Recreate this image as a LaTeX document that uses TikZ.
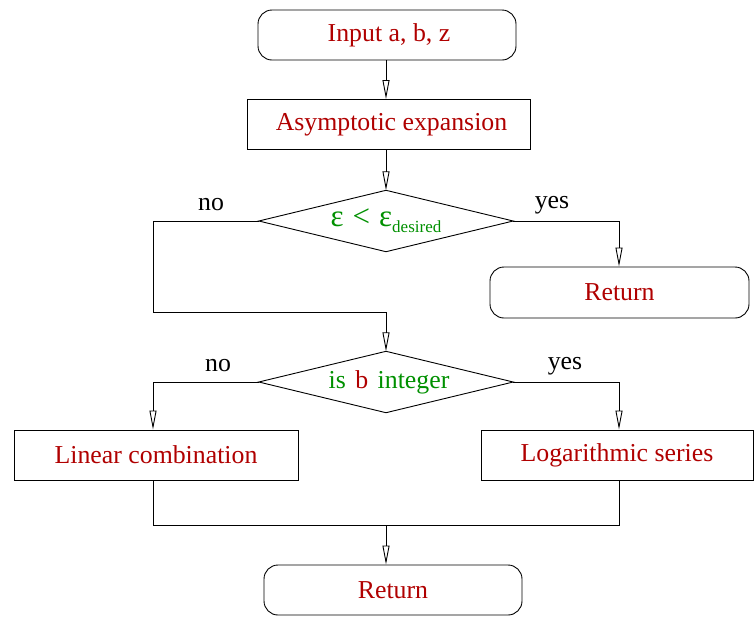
\documentclass[tikz,border=0pt]{standalone}
\usepackage{fontspec}
\setmainfont{Liberation Serif}
\usetikzlibrary{arrows.meta}
\definecolor{txtred}{HTML}{B00000}
\definecolor{txtgreen}{HTML}{009000}
\begin{document}
\begin{tikzpicture}[x=1pt,y=-1pt,
  every node/.style={font=\fontsize{25.8}{30}\selectfont},
  rbox/.style={draw,line width=0.9pt,rounded corners=14pt,minimum width=258pt,minimum height=50pt,text=txtred,inner sep=0pt},
  sbox/.style={draw,line width=0.9pt,minimum height=50pt,text=txtred,inner sep=0pt},
  dbox/.style={minimum width=254pt,minimum height=61pt,inner sep=0pt,text=txtgreen},
  lbl/.style={inner sep=0pt},
  conn/.style={line width=0.9pt},
  arr/.style={line width=0.9pt,-{Triangle[open,length=19pt,width=7pt]}}
]
\useasboundingbox (0,0) rectangle (754,619);
\node[rbox] (in) at (387,35) {\hspace{4pt}Input a, b, z};
\node[sbox,minimum width=283pt] (asym) at (388.5,124.5) {\hspace{6pt}Asymptotic expansion};
\node[dbox] (d1) at (386,221) {\fontsize{31}{32}\selectfont ε\hspace{9pt}<\hspace{9pt}ε\raisebox{-6pt}{\fontsize{17}{20}\selectfont desired}};
\draw[line width=0.9pt] (d1.west)--(d1.north)--(d1.east)--(d1.south)--cycle;
\node[rbox,minimum width=259pt,minimum height=51pt] (ret1) at (619.5,292.5) {Return};
\node[dbox] (d2) at (386,382) {\hspace{6pt}is\hspace{3pt} {\color{txtred}b}\hspace{3pt} integer};
\draw[line width=0.9pt] (d2.west)--(d2.north)--(d2.east)--(d2.south)--cycle;
\node[sbox,minimum width=284pt] (lin) at (156,455) {Linear combination};
\node[sbox,minimum width=272pt] (log) at (617,455) {Logarithmic series};
\node[rbox] (ret2) at (393,590) {Return};
\coordinate (c1) at (153,221);
\coordinate (c2) at (153,312);
\coordinate (c3) at (386,312);
\coordinate (c4) at (619,221);
\coordinate (c5) at (153,382);
\coordinate (c6) at (619,382);
\coordinate (c7) at (153,525);
\coordinate (c8) at (619,525);
\coordinate (c9) at (386,525);
\draw[arr] (in.south -| 386,0) -- (asym.north -| 386,0);
\draw[arr] (asym.south -| 386,0) -- (d1.north);
\draw[conn] (d1.west) -- (c1) -- (c2) -- (c3);
\draw[arr] (c3) -- (d2.north);
\draw[conn] (d1.east) -- (c4);
\draw[arr] (c4) -- (ret1.north -| c4);
\draw[conn] (d2.west) -- (c5);
\draw[arr] (c5) -- (lin.north -| c5);
\draw[conn] (d2.east) -- (c6);
\draw[arr] (c6) -- (log.north -| c6);
\draw[conn] (lin.south -| c7) -- (c7) -- (c8) -- (log.south -| c8);
\draw[arr] (c9) -- (ret2.north -| c9);
\node[lbl] (no1) at (211,205) {no};
\node[lbl] (yes1) at (552,205) {yes};
\node[lbl] (no2) at (218,366) {no};
\node[lbl] (yes2) at (565,366) {yes};
\end{tikzpicture}
\end{document}
